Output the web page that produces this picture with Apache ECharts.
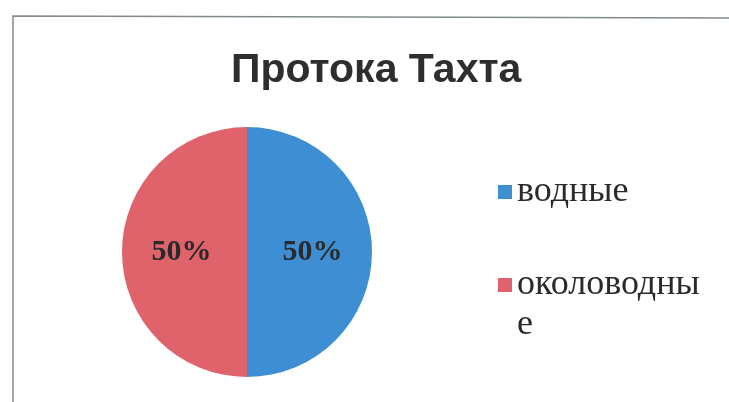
<!DOCTYPE html>
<html>
<head>
<meta charset="utf-8">
<script src="https://cdn.jsdelivr.net/npm/echarts@6/dist/echarts.min.js"></script>
<style>
html,body{margin:0;padding:0;background:#fff;}
#c{width:729px;height:402px;}
</style>
</head>
<body>
<div id="c"></div>
<script>
const titleText = 'Протока Тахта';
const categories = ['водные', 'околоводные'];
const values = [50, 50];
const colors = ['#3d8ed3', '#e0636c'];

const chart = echarts.init(document.getElementById('c'));
chart.setOption({
  backgroundColor: '#ffffff',
  animation: false,
  title: {
    text: titleText,
    left: 231,
    top: 50,
    padding: 0,
    textStyle: { fontFamily: 'Liberation Sans', fontWeight: 'bold', fontSize: 41, color: '#2e2e2e' }
  },
  graphic: [{
    type: 'polyline',
    shape: { points: [[13, 402], [13, 16], [729, 18]] },
    style: { stroke: '#808a8a', lineWidth: 1.5, fill: null },
    silent: true
  }],
  legend: [{
    orient: 'vertical',
    left: 498,
    top: 172,
    padding: 0,
    itemWidth: 14,
    itemHeight: 14,
    itemGap: 6,
    icon: 'rect',
    data: [categories[0]],
    textStyle: { fontFamily: 'Liberation Serif', fontSize: 36, lineHeight: 40, color: '#2a2a2a' }
  }, {
    orient: 'vertical',
    left: 498,
    top: 265,
    padding: 0,
    itemWidth: 14,
    itemHeight: 54,
    itemGap: 6,
    icon: 'path://M0,0L14,0L14,14L0,14Z M0,54L0.01,54L0.01,54.01Z',
    data: [categories[1]],
    formatter: function (name) { return name.slice(0, 10) + '\n' + name.slice(10); },
    textStyle: { fontFamily: 'Liberation Serif', fontSize: 36, lineHeight: 40, color: '#2a2a2a' }
  }],
  series: [{
    type: 'pie',
    center: [247, 252],
    radius: [0, 125],
    startAngle: 90,
    clockwise: true,
    label: {
      position: 'inside',
      formatter: '{d}%',
      fontFamily: 'Liberation Serif',
      fontWeight: 'bold',
      fontSize: 30,
      color: '#2a2a2a'
    },
    labelLine: { show: false },
    itemStyle: { borderWidth: 0 },
    data: categories.map((n, i) => ({ name: n, value: values[i], itemStyle: { color: colors[i] } }))
  }]
});
</script>
</body>
</html>
